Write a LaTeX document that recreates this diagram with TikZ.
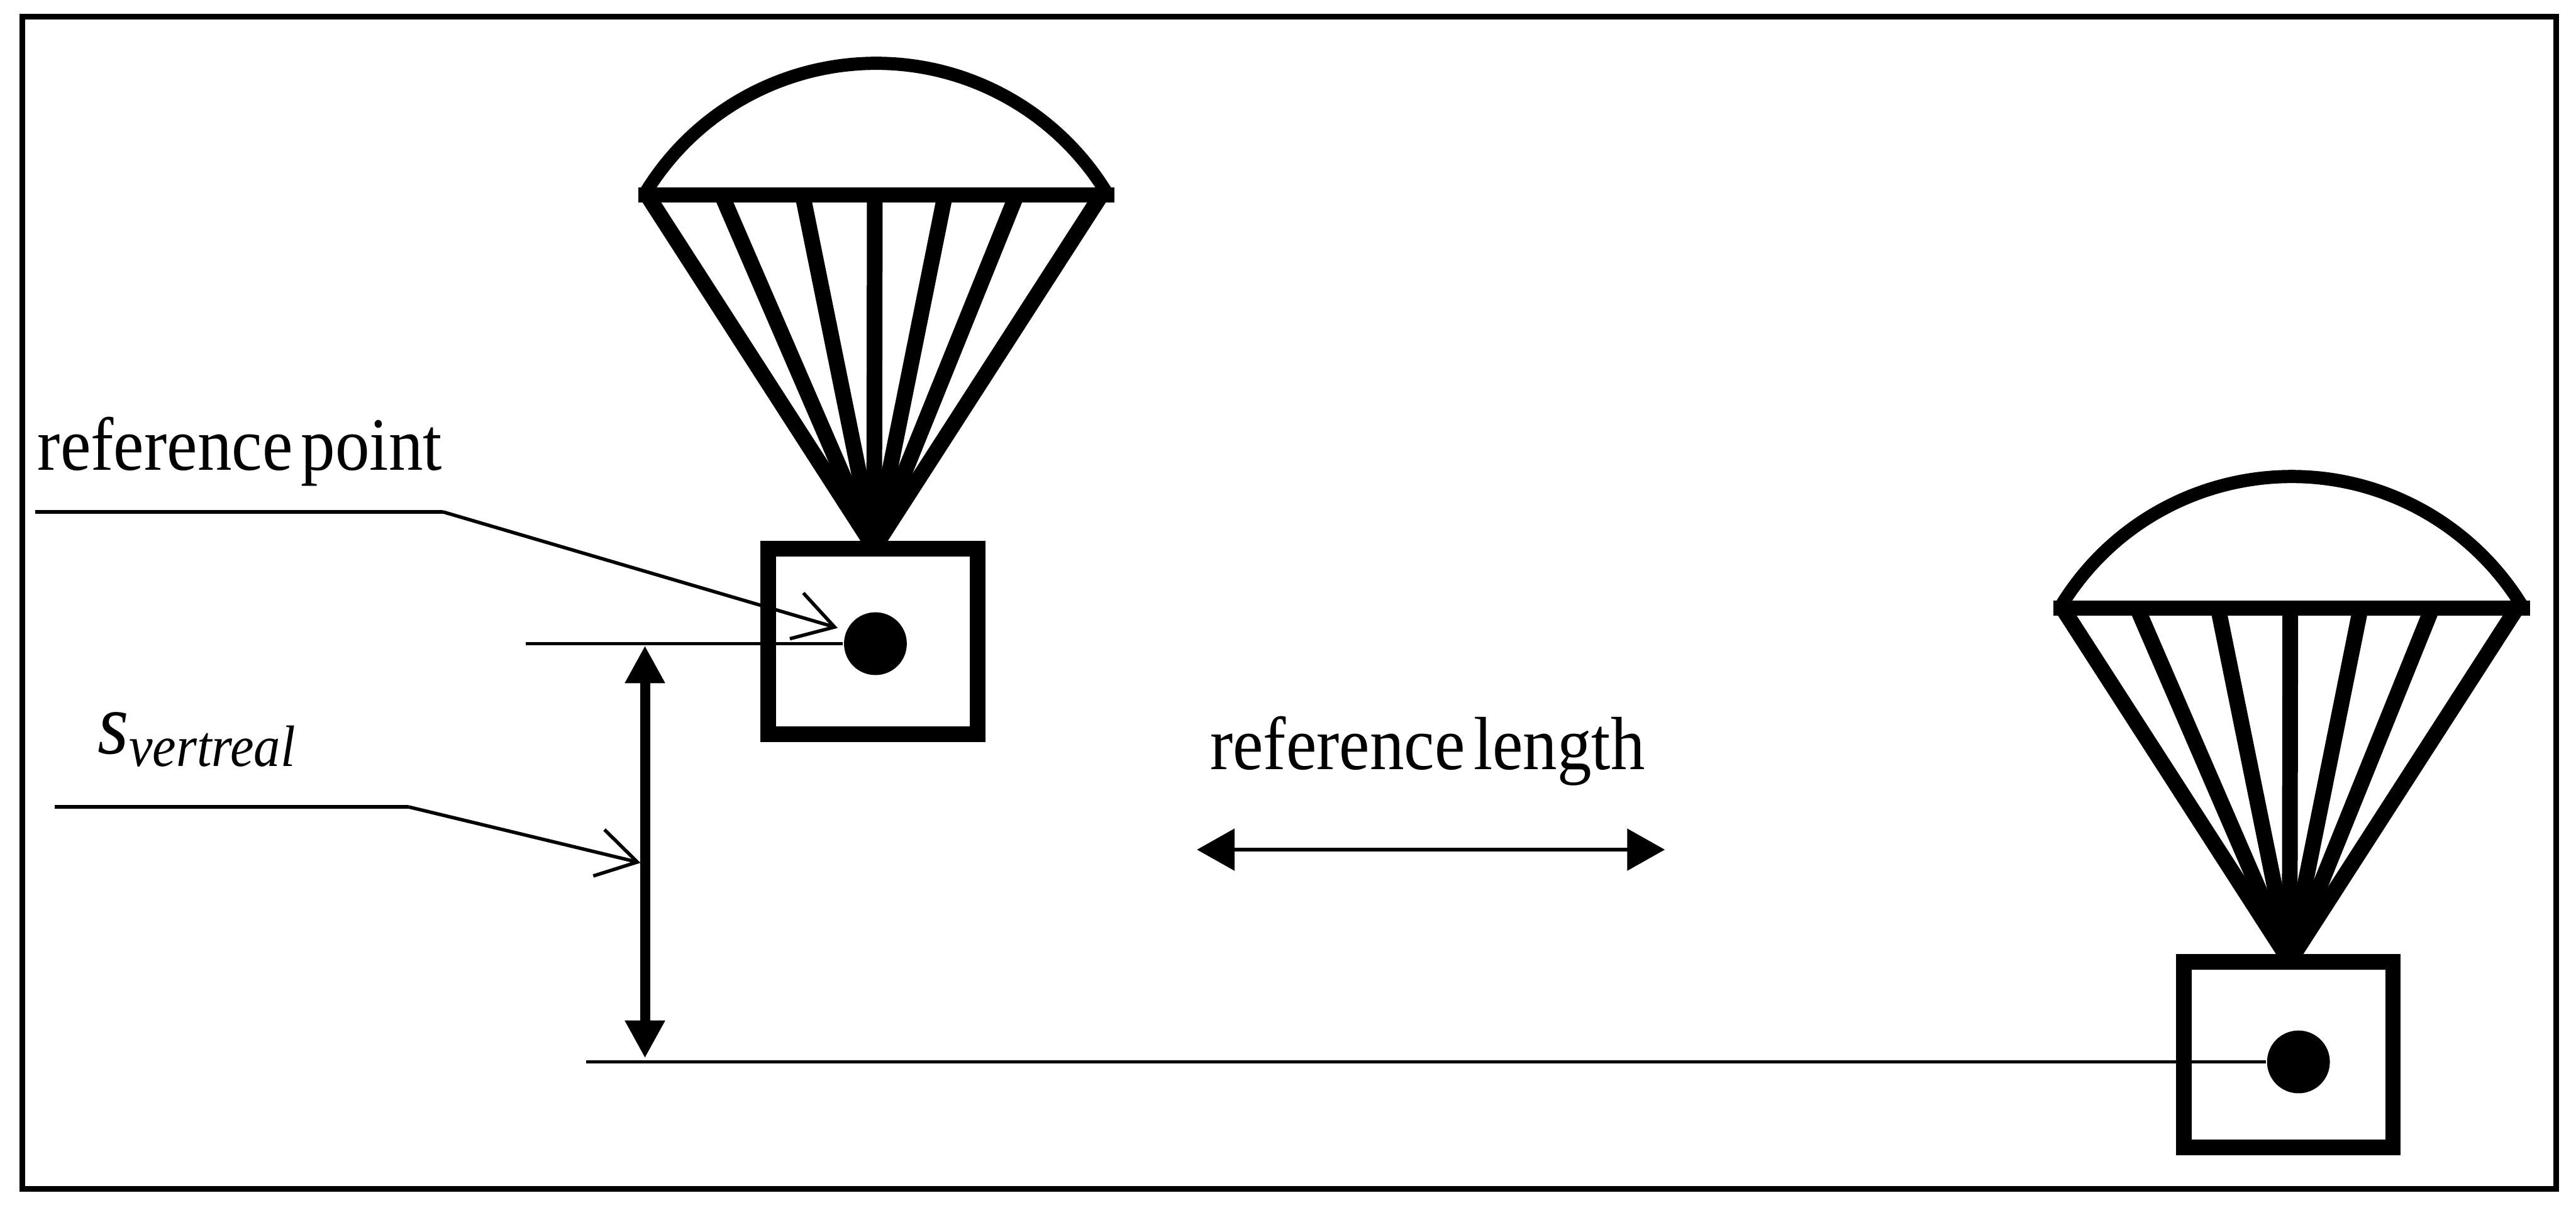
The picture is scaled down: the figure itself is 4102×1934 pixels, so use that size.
\documentclass[tikz,border=0pt]{standalone}
\usepackage{fontspec}
\setmainfont[FakeStretch=0.91,WordSpace=0.5]{Liberation Serif}
\usetikzlibrary{arrows.meta}

\begin{document}
\begin{tikzpicture}[x=0.1pt,y=-0.1pt]
    \tikzstyle{frame}=[line width=0.9pt]
    \tikzstyle{canopy}=[line width=2.1pt]
    \tikzstyle{spar}=[line width=2.4pt]
    \tikzstyle{rigging}=[line width=2.5pt]
    \tikzstyle{crate}=[rectangle,draw,line width=2.5pt,minimum width=33.3pt,minimum height=29.5pt,inner sep=0pt]
    \tikzstyle{refdot}=[circle,fill=black,minimum size=10pt,inner sep=0pt]
    \tikzstyle{thinline}=[line width=0.55pt]
    \tikzstyle{leader}=[line width=0.55pt,-{Straight Barb[length=6.3pt,width=7.6pt]}]
    \tikzstyle{heightdim}=[line width=1.6pt,{Triangle[length=6pt,width=6pt]}-{Triangle[length=6pt,width=6pt]}]
    \tikzstyle{lengthdim}=[line width=0.6pt,{Triangle[length=6pt,width=6.6pt]}-{Triangle[length=6pt,width=6.6pt]}]
    \tikzstyle{label}=[inner sep=0pt,anchor=base west,font=\fontsize{12}{14}\selectfont]

    \useasboundingbox (0,0) rectangle (4102,1934);
    \draw[frame] (36,27) rectangle (4070,1893);

    \foreach \i/\dx/\dy in {1/0/0,2/2254/658}{
      \begin{scope}[shift={(\dx,\dy)}]
        \coordinate (hub\i) at (1392,872);
        \coordinate (west\i) at (1026,310);
        \coordinate (tip\i) at (1775,310);
        \draw[canopy] (west\i) arc[start angle=149.1,end angle=30.9,radius=43pt];
        \draw[spar] (1016,310) -- (tip\i);
        \foreach \x in {1030,1149,1278,1393,1505,1619,1754}{
          \draw[rigging] (\x,310) -- (hub\i);
        }
        \node[crate] (box\i) at (1390,1021.5) {};
      \end{scope}
    }

    \node[refdot] (dot1) at (1394,1025) {};
    \node[refdot] (dot2) at (3660,1691) {};

    \coordinate (upperfree) at (837,1025);
    \coordinate (lowerfree) at (933,1691);
    \draw[thinline] (upperfree) -- (dot1);
    \draw[thinline] (lowerfree) -- (dot2);

    \coordinate (heighttop) at (1027,1028);
    \coordinate (heightbottom) at (1027,1685);
    \draw[heightdim] (heighttop) -- (heightbottom);

    \node[label] (pointlabel) at (58,749) {reference point};
    \coordinate (pointstart) at (56,815);
    \coordinate (pointbend) at (705,815);
    \coordinate (pointtip) at (1334,1000);
    \draw[thinline] (pointstart) -- (pointbend);
    \draw[leader] (pointbend) -- (pointtip);

    \node[label] (heightlabel) at (154,1200) {\fontsize{14}{16}\selectfont\textit{s}\raisebox{-2pt}{\fontsize{9.3}{11}\selectfont\textit{vertreal}}};
    \coordinate (heightstart) at (87,1285);
    \coordinate (heightbend) at (651,1285);
    \coordinate (heighttip) at (1020,1374);
    \draw[thinline] (heightstart) -- (heightbend);
    \draw[leader] (heightbend) -- (heighttip);

    \node[label] (lengthlabel) at (1925,1225) {reference length};
    \coordinate (lengthwest) at (1906,1353);
    \coordinate (lengtheast) at (2651,1353);
    \draw[lengthdim] (lengthwest) -- (lengtheast);
\end{tikzpicture}
\end{document}
